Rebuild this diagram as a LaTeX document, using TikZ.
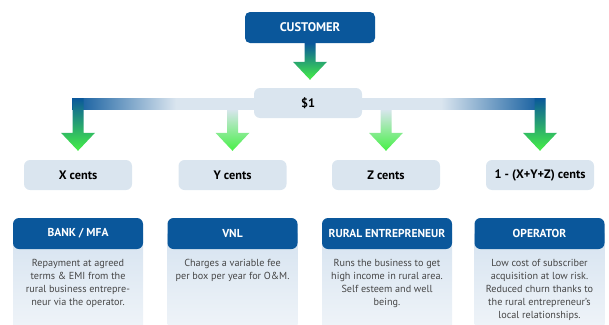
\documentclass[tikz,border=0pt]{standalone}
\usepackage{fontspec}
\setmainfont{PT Sans}
\usetikzlibrary{calc}

\definecolor{dkblue}{RGB}{10,87,155}
\definecolor{paleblue}{RGB}{218,229,239}
\definecolor{arrgreen}{RGB}{70,240,70}
\definecolor{bodytop}{RGB}{214,227,240}
\definecolor{bodybot}{RGB}{238,243,248}
\definecolor{bodytext}{RGB}{70,70,70}

\pgfdeclarehorizontalshading{splitbar}{100bp}{color(0bp)=(dkblue); color(25bp)=(dkblue); color(36bp)=(paleblue); color(64bp)=(paleblue); color(75bp)=(dkblue); color(100bp)=(dkblue)}

% block arrow from #1 down to the tip #2, shaded from #3 to green
\newcommand\fatarrow[3]{%
  \shade[top color=#3,bottom color=arrgreen]
    let \p1=(#1), \p2=(#2) in
    (\x1-5.5pt,\y1) -- (\x1-5.5pt,\y2+18pt) -- (\x1-17pt,\y2+18pt) -- (\x1,\y2)
    -- (\x1+17pt,\y2+18pt) -- (\x1+5.5pt,\y2+18pt) -- (\x1+5.5pt,\y1) -- cycle;}

\tikzset{
  topbox/.style={fill=dkblue, rounded corners=5pt, text=white,
    font=\bfseries\fontsize{12.5}{14}\selectfont, minimum width=130pt, minimum height=31pt},
  sharebox/.style={fill=paleblue, rounded corners=6pt,
    font=\bfseries\fontsize{12.3}{14}\selectfont, minimum width=108pt, minimum height=30pt},
  partyhead/.style={fill=dkblue, rounded corners=6pt, text=white, inner sep=1pt,
    font=\bfseries\fontsize{11.5}{13}\selectfont, minimum width=130pt, minimum height=31pt},
  partytext/.style={text=bodytext, font=\fontsize{10.2}{13}\selectfont,
    align=center, anchor=north, inner sep=0pt}
}

\begin{document}
\begin{tikzpicture}[x=1pt,y=-1pt]
	  \useasboundingbox (0,0) rectangle (609,324);
	  \coordinate (floor) at (0,324);
	  \coordinate (barl) at (72,98);
	  \coordinate (barr) at (545,109);
	  \shade[shading=splitbar] (barl) rectangle (barr);
	  \node[topbox] (cust) at (310,27.5) {CUSTOMER};
	  \node[sharebox] (dollar) at (308,103) {\$1};
	  \node[sharebox] (xc) at (78,175) {X cents};
	  \node[sharebox] (yc) at (232.5,175) {Y cents};
	  \node[sharebox] (zc) at (386,175) {Z cents};
	  \node[sharebox] (rc) at (540,175) {1 - (X+Y+Z) cents};
	  \fatarrow{cust.south}{$(dollar.north)+(0,-8)$}{dkblue}
	  \fatarrow{xc.north |- barl}{$(xc.north)+(0,-9)$}{dkblue}
	  \fatarrow{yc.north |- barr}{$(yc.north)+(0,-9)$}{paleblue}
	  \fatarrow{zc.north |- barr}{$(zc.north)+(0,-9)$}{paleblue}
	  \fatarrow{rc.north |- barl}{$(rc.north)+(0,-9)$}{dkblue}
	  \coordinate (bankc) at (78,233.5);
	  \coordinate (vnlc) at (232.5,233.5);
	  \coordinate (ruralc) at (387,233.5);
	  \coordinate (operc) at (539.5,233.5);
	  \shade[top color=bodytop,bottom color=bodybot] ($(bankc)+(-65,0)$) rectangle ($(bankc |- floor)+(65,0)$);
	  \shade[top color=bodytop,bottom color=bodybot] ($(vnlc)+(-65,0)$) rectangle ($(vnlc |- floor)+(65,0)$);
	  \shade[top color=bodytop,bottom color=bodybot] ($(ruralc)+(-65,0)$) rectangle ($(ruralc |- floor)+(65,0)$);
	  \shade[top color=bodytop,bottom color=bodybot] ($(operc)+(-65,0)$) rectangle ($(operc |- floor)+(65,0)$);
	  \node[partyhead] (bank) at (bankc) {BANK / MFA};
	  \node[partyhead] (vnl) at (vnlc) {VNL};
	  \node[partyhead] (rural) at (ruralc) {RURAL ENTREPRENEUR};
	  \node[partyhead] (oper) at (operc) {OPERATOR};
	  \node[partytext] (banktxt) at ($(bank.south)+(0,9.5)$) {Repayment at agreed\\terms \& EMI from the\\rural business entrepre-\\neur via the operator.};
	  \node[partytext] (vnltxt) at ($(vnl.south)+(0,9.5)$) {Charges a variable fee\\per box per year for O\&M.};
	  \node[partytext] (ruraltxt) at ($(rural.south)+(0,9.5)$) {Runs the business to get\\high income in rural area.\\Self esteem and well\\being.};
	  \node[partytext] (opertxt) at ($(oper.south)+(0,9.5)$) {Low cost of subscriber\\acquisition at low risk.\\Reduced churn thanks to\\the rural entrepreneur’s\\local relationships.};
	\end{tikzpicture}
\end{document}
